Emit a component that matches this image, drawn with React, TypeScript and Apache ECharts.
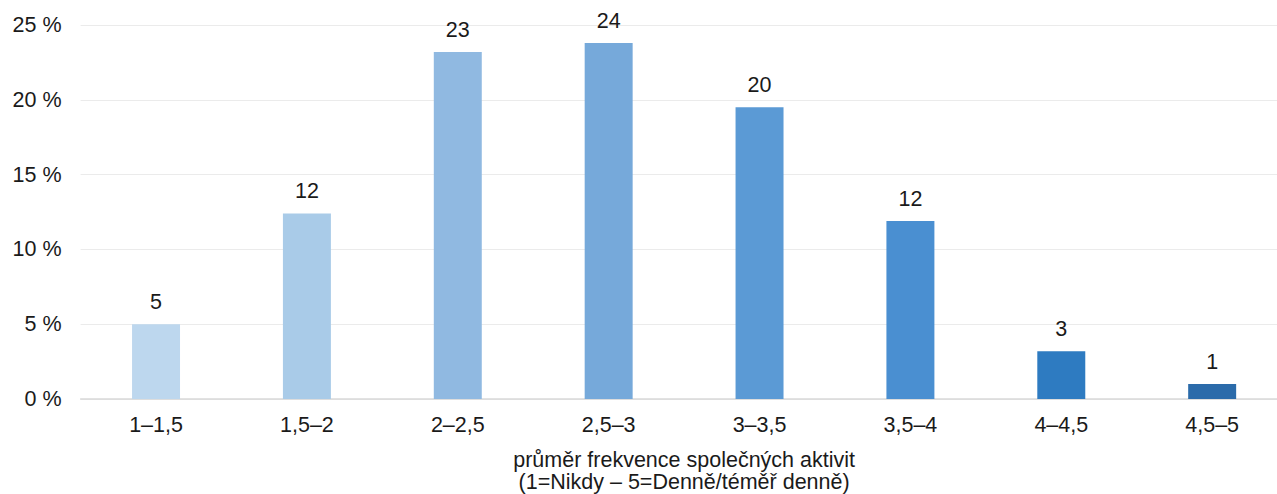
import React, { useEffect, useRef } from "react";
import * as echarts from "echarts";

const categories = ["1–1,5", "1,5–2", "2–2,5", "2,5–3", "3–3,5", "3,5–4", "4–4,5", "4,5–5"];
const values = [5.0, 12.4, 23.2, 23.8, 19.5, 11.9, 3.2, 1.0];
const labels = ["5", "12", "23", "24", "20", "12", "3", "1"];
const barColors = ["#BDD7EE", "#A9CBE8", "#90B9E1", "#76A9DA", "#5B9AD5", "#4A8FD1", "#2E7BC1", "#2B6BAA"];
const yTicks = [0, 5, 10, 15, 20, 25];
const axisTitle = "průměr frekvence společných aktivit\n(1=Nikdy – 5=Denně/téměř denně)";

const FONT = "Liberation Sans, Arial, sans-serif";

export default function App() {
  const ref = useRef<HTMLDivElement>(null);
  useEffect(() => {
    if (!ref.current) return;
    const chart = echarts.init(ref.current, null, { renderer: "svg" });
    chart.setOption({
      animation: false,
      grid: { left: 80.6, top: 25, width: 1207, height: 374, outerBoundsMode: "none", containLabel: false },
      xAxis: {
        type: "category",
        data: categories,
        axisLine: { lineStyle: { color: "#D9D9D9", width: 1.5 } },
        axisTick: { show: false },
        axisLabel: { color: "#1a1a1a", fontSize: 21.5, fontFamily: FONT, margin: 15 },
        name: axisTitle,
        nameLocation: "middle",
        nameGap: 50,
        nameTextStyle: { color: "#1a1a1a", fontSize: 21.5, fontFamily: FONT, lineHeight: 22 },
      },
      yAxis: {
        type: "value",
        min: yTicks[0],
        max: yTicks[yTicks.length - 1],
        interval: 5,
        axisLine: { show: false },
        axisTick: { show: false },
        splitLine: { lineStyle: { color: "#EBEBEB", width: 1 } },
        axisLabel: {
          color: "#1a1a1a",
          fontSize: 21.5,
          fontFamily: FONT,
          margin: 19,
          formatter: (v: number) => `${v} %`,
        },
      },
      series: [
        {
          type: "bar",
          barWidth: "31.8%",
          data: values.map((v, i) => ({ value: v, itemStyle: { color: barColors[i] } })),
          label: {
            show: true,
            position: "top",
            distance: 11,
            color: "#1a1a1a",
            fontSize: 21.5,
            fontFamily: FONT,
            formatter: (p: any) => labels[p.dataIndex],
          },
        },
      ],
    });
    return () => chart.dispose();
  }, []);
  return (
    <div
      ref={ref}
      style={{ position: "fixed", left: 0, top: 0, width: 1277, height: 494, background: "#fff" }}
    />
  );
}
